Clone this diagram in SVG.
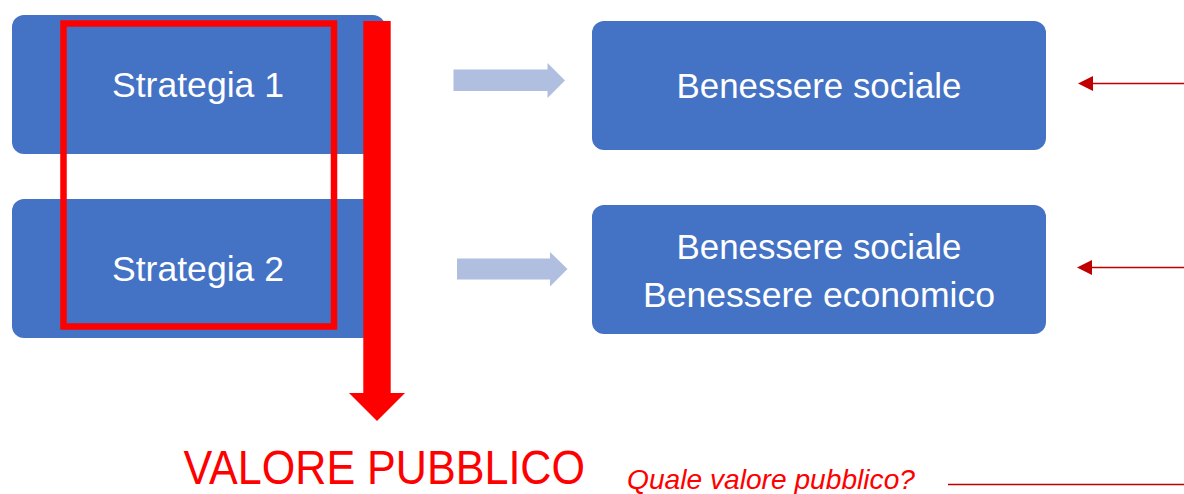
<svg xmlns="http://www.w3.org/2000/svg" width="1184" height="494" viewBox="0 0 1184 494">
  <style>
    .box { fill: #4472C4; }
    .lbl { fill: #FFFFFF; font-family: "Liberation Sans", Arial, sans-serif; font-size: 35px; text-anchor: middle; }
    .flow { fill: #B0BFE0; }
    .fb { stroke: #C00000; stroke-width: 1.6; fill: none; }
    .fbh { fill: #C00000; }
  </style>
  <rect width="1184" height="494" fill="#FFFFFF"/>
  <g id="strategia1">
    <rect class="box" x="12" y="15" width="373" height="139" rx="12"/>
    <text class="lbl" x="198" y="97" textLength="172" lengthAdjust="spacingAndGlyphs">Strategia 1</text>
  </g>
  <g id="strategia2">
    <rect class="box" x="12" y="199" width="373" height="139" rx="12"/>
    <text class="lbl" x="198" y="281" textLength="172" lengthAdjust="spacingAndGlyphs">Strategia 2</text>
  </g>
  <g id="benessere1">
    <rect class="box" x="592" y="21" width="454" height="129" rx="12"/>
    <text class="lbl" x="819" y="98" textLength="285" lengthAdjust="spacingAndGlyphs">Benessere sociale</text>
  </g>
  <g id="benessere2">
    <rect class="box" x="592" y="205" width="454" height="129" rx="12"/>
    <text class="lbl" x="819" y="259" textLength="285" lengthAdjust="spacingAndGlyphs">Benessere sociale</text>
    <text class="lbl" x="819" y="306.5" textLength="352" lengthAdjust="spacingAndGlyphs">Benessere economico</text>
  </g>
  <g id="selezione">
    <rect x="63.5" y="23.5" width="270.5" height="303" fill="none" stroke="#FF0000" stroke-width="6.5"/>
  </g>
  <g id="connectors">
    <polygon class="flow" points="453.5,69.5 547.5,69.5 547.5,63 565,80.5 547.5,98 547.5,91 453.5,91"/>
    <polygon class="flow" points="457,258.5 550,258.5 550,252 567.5,269 550,286.5 550,279.5 457,279.5"/>
    <polygon fill="#FF0000" points="363.3,21 390.7,21 390.7,393 405,393 377,421 349,393 363.3,393"/>
    <line class="fb" x1="1093" y1="83.5" x2="1184" y2="83.5"/>
    <polygon class="fbh" points="1078,83.5 1093,76 1093,91"/>
    <line class="fb" x1="1092" y1="267.5" x2="1184" y2="267.5"/>
    <polygon class="fbh" points="1077,267.5 1092,260 1092,275"/>
    <line class="fb" x1="948" y1="484.5" x2="1184" y2="484.5"/>
  </g>
  <g id="valore">
    <text x="183.5" y="483.5" fill="#FF0000" font-family="Liberation Sans, Arial, sans-serif" font-size="48" textLength="401.5" lengthAdjust="spacingAndGlyphs">VALORE PUBBLICO</text>
  </g>
  <g id="domanda">
    <text x="627" y="489" fill="#FF0000" font-family="Liberation Sans, Arial, sans-serif" font-style="italic" font-size="28" textLength="288" lengthAdjust="spacingAndGlyphs">Quale valore pubblico?</text>
  </g>
</svg>
